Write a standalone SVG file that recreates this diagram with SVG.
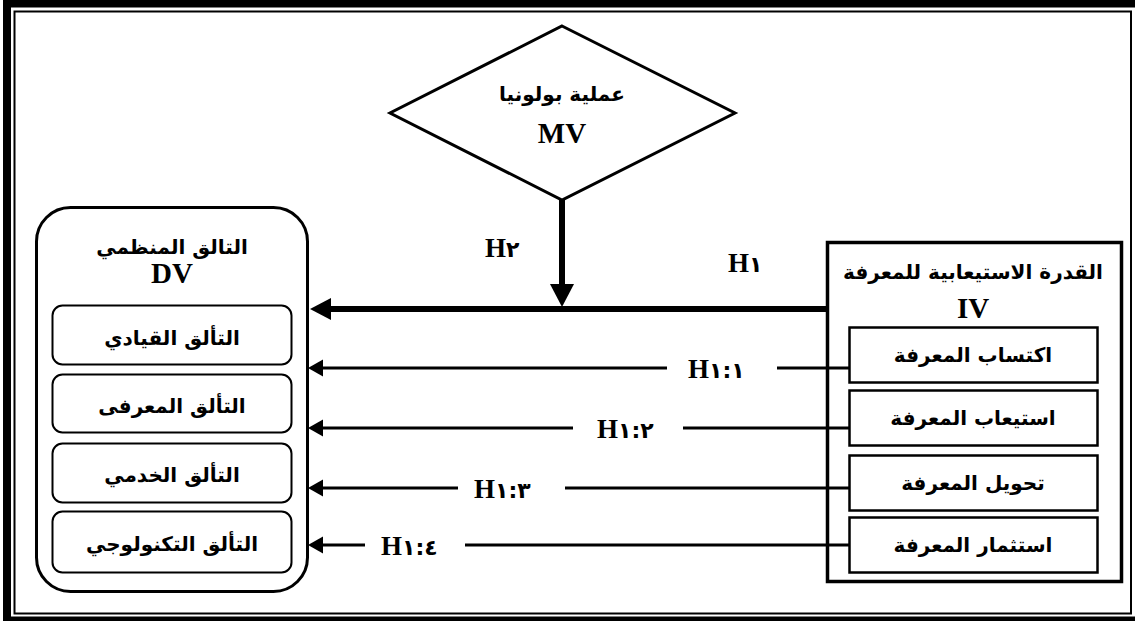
<svg xmlns="http://www.w3.org/2000/svg" width="1135" height="621" viewBox="0 0 1135 621">
<style>
.ar{font-family:"DejaVu Sans","Noto Sans",sans-serif;font-weight:bold;font-size:20px;fill:#000;text-anchor:middle;direction:rtl}
.la{font-family:"Liberation Serif","Times New Roman",serif;font-weight:bold;font-size:29px;fill:#000;text-anchor:middle}
.hl{font-family:"Liberation Serif","DejaVu Sans",serif;font-weight:bold;font-size:27px;fill:#000;direction:ltr;unicode-bidi:embed}
.dg{font-family:"DejaVu Sans",sans-serif;font-size:22px}
.box{fill:#fff;stroke:#000}
.ln{stroke:#000;stroke-width:3;fill:none}
</style>
<rect width="1135" height="621" fill="#fff"/>
<g id="frame">
<rect x="7" y="3.5" width="1140" height="617" fill="none" stroke="#000" stroke-width="8"/>
<rect x="14.5" y="11.5" width="1116.5" height="602" fill="none" stroke="#000" stroke-width="2"/>
</g>
<g id="connectors">
<line x1="562" y1="200" x2="562" y2="286" stroke="#000" stroke-width="6"/>
<polygon points="550,284 574,284 562,307"/>
<line x1="826" y1="309" x2="328" y2="309" stroke="#000" stroke-width="6"/>
<polygon points="310,309 331,298 331,320"/>
<line class="ln" x1="849" y1="368" x2="777" y2="368"/>
<line class="ln" x1="667" y1="368" x2="320" y2="368"/>
<polygon points="308,368 323,359.5 323,376.5"/>
<line class="ln" x1="849" y1="428" x2="683" y2="428"/>
<line class="ln" x1="573" y1="428" x2="320" y2="428"/>
<polygon points="308,428 323,419.5 323,436.5"/>
<line class="ln" x1="849" y1="488" x2="565" y2="488"/>
<line class="ln" x1="458" y1="488" x2="320" y2="488"/>
<polygon points="308,488 323,479.5 323,496.5"/>
<line class="ln" x1="849" y1="545" x2="465" y2="545"/>
<line class="ln" x1="365" y1="545" x2="320" y2="545"/>
<polygon points="308,545 323,536.5 323,553.5"/>
<text class="hl" x="485" y="257">H<tspan class="dg">٢</tspan></text>
<text class="hl" x="728" y="272">H<tspan class="dg">١</tspan></text>
<text class="hl" x="688" y="378">H<tspan class="dg">١:١</tspan></text>
<text class="hl" x="597" y="438">H<tspan class="dg">١:٢</tspan></text>
<text class="hl" x="474" y="498">H<tspan class="dg">١:٣</tspan></text>
<text class="hl" x="381" y="555">H<tspan class="dg">١:٤</tspan></text>
</g>
<g id="mv">
<polygon points="562,26 735,113 562,200 390,113" class="box" stroke-width="3"/>
<text class="ar" x="562" y="101">عملية بولونيا</text>
<text class="la" x="562" y="143">MV</text>
</g>
<g id="dv">
<rect x="36.5" y="207.5" width="271" height="384" rx="34" class="box" stroke-width="3"/>
<text class="ar" x="172" y="254">التالق المنظمي</text>
<text class="la" x="172" y="283">DV</text>
</g>
<g id="dv1"><rect x="52.5" y="305.5" width="239" height="59" rx="10" class="box" stroke-width="2"/><text class="ar" x="172" y="345">التألق القيادي</text></g>
<g id="dv2"><rect x="52.5" y="374.5" width="239" height="58" rx="10" class="box" stroke-width="2"/><text class="ar" x="172" y="413">التألق المعرفى</text></g>
<g id="dv3"><rect x="52.5" y="443.5" width="239" height="59" rx="10" class="box" stroke-width="2"/><text class="ar" x="172" y="482">التألق الخدمي</text></g>
<g id="dv4"><rect x="52.5" y="511.5" width="239" height="61" rx="10" class="box" stroke-width="2"/><text class="ar" x="172" y="551">التألق التكنولوجي</text></g>
<g id="iv">
<rect x="827.5" y="242.5" width="294" height="339" fill="none" stroke="#000" stroke-width="3.5"/>
<text class="ar" x="973" y="279">القدرة الاستيعابية للمعرفة</text>
<text class="la" x="973" y="318">IV</text>
</g>
<g id="iv1"><rect x="849.5" y="327.5" width="248" height="55" class="box" stroke-width="2.5"/><text class="ar" x="973" y="362">اكتساب المعرفة</text></g>
<g id="iv2"><rect x="849.5" y="390.5" width="248" height="55" class="box" stroke-width="2.5"/><text class="ar" x="973" y="425">استيعاب المعرفة</text></g>
<g id="iv3"><rect x="849.5" y="455.5" width="248" height="55" class="box" stroke-width="2.5"/><text class="ar" x="973" y="490">تحويل المعرفة</text></g>
<g id="iv4"><rect x="849.5" y="517.5" width="248" height="55" class="box" stroke-width="2.5"/><text class="ar" x="973" y="552">استثمار المعرفة</text></g>
</svg>
